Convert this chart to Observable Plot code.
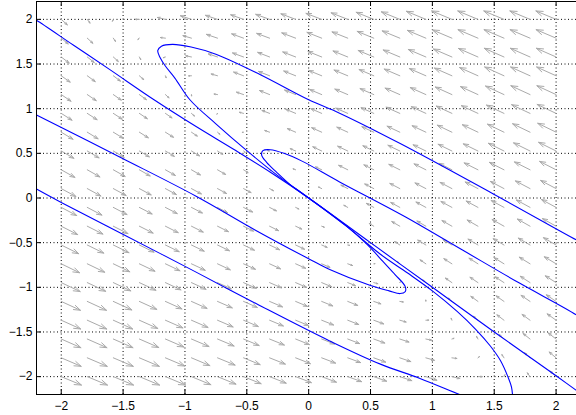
<!DOCTYPE html>
<html><head><meta charset="utf-8">
<script src="https://cdn.jsdelivr.net/npm/d3@7"></script>
<script src="https://cdn.jsdelivr.net/npm/@observablehq/plot@0.6"></script>
<style>html,body{margin:0;padding:0;background:#fff;overflow:hidden}</style>
</head><body><div id="chart"></div>
<script>
// quiver grid (20 x 20)
const gridX = [-2, -1.7895, -1.5789, -1.3684, -1.1579, -0.9474, -0.7368, -0.5263, -0.3158, -0.1053, 0.1053, 0.3158, 0.5263, 0.7368, 0.9474, 1.1579, 1.3684, 1.5789, 1.7895, 2];
const gridY = [2, 1.7895, 1.5789, 1.3684, 1.1579, 0.9474, 0.7368, 0.5263, 0.3158, 0.1053, -0.1053, -0.3158, -0.5263, -0.7368, -0.9474, -1.1579, -1.3684, -1.5789, -1.7895, -2];
// arrow components (hundredths of an axis unit), rows follow gridY
const U = [
 [4.9, 2.2, -0.7, -3.5, -6.4, -8.9, -9.7, -10.4, -11.2, -11.9, -12.7, -13.4, -14.2, -14.9, -15.7, -16.3, -16.3, -16.3, -16.3, -16.3],
 [5.6, 4.5, 1.7, -1.2, -4.0, -6.9, -8.9, -9.6, -10.4, -11.2, -11.9, -12.7, -13.4, -14.2, -14.9, -15.7, -16.1, -16.1, -16.1, -16.1],
 [6.4, 5.6, 4.0, 1.1, -1.7, -4.6, -7.4, -8.9, -9.6, -10.4, -11.1, -11.9, -12.6, -13.4, -14.2, -14.9, -15.7, -15.9, -15.9, -15.9],
 [7.2, 6.4, 5.7, 3.5, 0.6, -2.3, -5.1, -8.0, -8.9, -9.6, -10.4, -11.1, -11.9, -12.6, -13.4, -14.1, -14.9, -15.6, -15.7, -15.7],
 [7.9, 7.2, 6.4, 5.7, 2.9, 0.1, -2.8, -5.7, -8.1, -8.9, -9.6, -10.4, -11.1, -11.9, -12.6, -13.4, -14.1, -14.9, -15.5, -15.5],
 [8.7, 7.9, 7.2, 6.4, 5.3, 2.4, -0.5, -3.3, -6.2, -8.1, -8.8, -9.6, -10.3, -11.1, -11.8, -12.6, -13.4, -14.1, -14.9, -15.3],
 [9.5, 8.7, 8.0, 7.2, 6.5, 4.7, 1.9, -1.0, -3.9, -6.7, -8.1, -8.8, -9.6, -10.3, -11.1, -11.8, -12.6, -13.3, -14.1, -14.8],
 [10.2, 9.5, 8.7, 8.0, 7.2, 6.5, 4.2, 1.3, -1.5, -4.4, -7.2, -8.1, -8.8, -9.6, -10.3, -11.1, -11.8, -12.6, -13.3, -14.1],
 [11.0, 10.2, 9.5, 8.7, 8.0, 7.2, 6.5, 3.6, 0.8, -2.1, -4.9, -7.3, -8.0, -8.8, -9.5, -10.3, -11.1, -11.8, -12.6, -13.3],
 [11.8, 11.0, 10.3, 9.5, 8.8, 8.0, 7.3, 6.0, 3.1, 0.3, -2.6, -5.5, -7.3, -8.0, -8.8, -9.5, -10.3, -11.0, -11.8, -12.5],
 [12.5, 11.8, 11.0, 10.3, 9.5, 8.8, 8.0, 7.3, 5.5, 2.6, -0.3, -3.1, -6.0, -7.3, -8.0, -8.8, -9.5, -10.3, -11.0, -11.8],
 [13.3, 12.6, 11.8, 11.1, 10.3, 9.5, 8.8, 8.0, 7.3, 4.9, 2.1, -0.8, -3.6, -6.5, -7.2, -8.0, -8.7, -9.5, -10.2, -11.0],
 [14.1, 13.3, 12.6, 11.8, 11.1, 10.3, 9.6, 8.8, 8.1, 7.2, 4.4, 1.5, -1.3, -4.2, -6.5, -7.2, -8.0, -8.7, -9.5, -10.2],
 [14.8, 14.1, 13.3, 12.6, 11.8, 11.1, 10.3, 9.6, 8.8, 8.1, 6.7, 3.9, 1.0, -1.9, -4.7, -6.5, -7.2, -8.0, -8.7, -9.5],
 [15.3, 14.9, 14.1, 13.4, 12.6, 11.8, 11.1, 10.3, 9.6, 8.8, 8.1, 6.2, 3.3, 0.5, -2.4, -5.3, -6.4, -7.2, -7.9, -8.7],
 [15.5, 15.5, 14.9, 14.1, 13.4, 12.6, 11.9, 11.1, 10.4, 9.6, 8.9, 8.1, 5.7, 2.8, -0.1, -2.9, -5.7, -6.4, -7.2, -7.9],
 [15.7, 15.7, 15.6, 14.9, 14.1, 13.4, 12.6, 11.9, 11.1, 10.4, 9.6, 8.9, 8.0, 5.1, 2.3, -0.6, -3.5, -5.7, -6.4, -7.2],
 [15.9, 15.9, 15.9, 15.7, 14.9, 14.2, 13.4, 12.6, 11.9, 11.1, 10.4, 9.6, 8.9, 7.4, 4.6, 1.7, -1.1, -4.0, -5.6, -6.4],
 [16.1, 16.1, 16.1, 16.1, 15.7, 14.9, 14.2, 13.4, 12.7, 11.9, 11.2, 10.4, 9.6, 8.9, 6.9, 4.0, 1.2, -1.7, -4.5, -5.6],
 [16.3, 16.3, 16.3, 16.3, 16.3, 15.7, 14.9, 14.2, 13.4, 12.7, 11.9, 11.2, 10.4, 9.7, 8.9, 6.4, 3.5, 0.7, -2.2, -4.9]
];
const V = [
 [-6.2, -4.2, -2.1, 0.0, 2.1, 4.0, 4.5, 5.1, 5.6, 6.2, 6.7, 7.3, 7.9, 8.4, 9.0, 9.4, 9.4, 9.4, 9.4, 9.4],
 [-6.5, -5.7, -3.6, -1.4, 0.7, 2.8, 4.2, 4.8, 5.3, 5.9, 6.5, 7.0, 7.6, 8.1, 8.7, 9.2, 9.5, 9.5, 9.5, 9.5],
 [-6.8, -6.2, -5.0, -2.9, -0.8, 1.3, 3.4, 4.5, 5.1, 5.6, 6.2, 6.7, 7.3, 7.8, 8.4, 8.9, 9.5, 9.7, 9.7, 9.7],
 [-7.1, -6.5, -6.0, -4.3, -2.2, -0.1, 2.0, 4.1, 4.8, 5.3, 5.9, 6.4, 7.0, 7.5, 8.1, 8.6, 9.2, 9.8, 9.8, 9.8],
 [-7.4, -6.8, -6.2, -5.7, -3.7, -1.6, 0.6, 2.7, 4.5, 5.0, 5.6, 6.1, 6.7, 7.2, 7.8, 8.4, 8.9, 9.5, 9.9, 9.9],
 [-7.6, -7.1, -6.5, -6.0, -5.1, -3.0, -0.9, 1.2, 3.3, 4.7, 5.3, 5.8, 6.4, 6.9, 7.5, 8.1, 8.6, 9.2, 9.7, 10.0],
 [-7.9, -7.4, -6.8, -6.3, -5.7, -4.4, -2.3, -0.2, 1.9, 4.0, 5.0, 5.6, 6.1, 6.7, 7.2, 7.8, 8.3, 8.9, 9.4, 10.0],
 [-8.2, -7.7, -7.1, -6.6, -6.0, -5.5, -3.8, -1.7, 0.4, 2.6, 4.7, 5.3, 5.8, 6.4, 6.9, 7.5, 8.0, 8.6, 9.1, 9.7],
 [-8.5, -8.0, -7.4, -6.9, -6.3, -5.8, -5.2, -3.1, -1.0, 1.1, 3.2, 5.0, 5.5, 6.1, 6.6, 7.2, 7.7, 8.3, 8.8, 9.4],
 [-8.8, -8.3, -7.7, -7.1, -6.6, -6.0, -5.5, -4.5, -2.4, -0.3, 1.8, 3.9, 5.2, 5.8, 6.3, 6.9, 7.4, 8.0, 8.6, 9.1],
 [-9.1, -8.6, -8.0, -7.4, -6.9, -6.3, -5.8, -5.2, -3.9, -1.8, 0.3, 2.4, 4.5, 5.5, 6.0, 6.6, 7.1, 7.7, 8.3, 8.8],
 [-9.4, -8.8, -8.3, -7.7, -7.2, -6.6, -6.1, -5.5, -5.0, -3.2, -1.1, 1.0, 3.1, 5.2, 5.8, 6.3, 6.9, 7.4, 8.0, 8.5],
 [-9.7, -9.1, -8.6, -8.0, -7.5, -6.9, -6.4, -5.8, -5.3, -4.7, -2.6, -0.4, 1.7, 3.8, 5.5, 6.0, 6.6, 7.1, 7.7, 8.2],
 [-10.0, -9.4, -8.9, -8.3, -7.8, -7.2, -6.7, -6.1, -5.6, -5.0, -4.0, -1.9, 0.2, 2.3, 4.4, 5.7, 6.3, 6.8, 7.4, 7.9],
 [-10.0, -9.7, -9.2, -8.6, -8.1, -7.5, -6.9, -6.4, -5.8, -5.3, -4.7, -3.3, -1.2, 0.9, 3.0, 5.1, 6.0, 6.5, 7.1, 7.6],
 [-9.9, -9.9, -9.5, -8.9, -8.4, -7.8, -7.2, -6.7, -6.1, -5.6, -5.0, -4.5, -2.7, -0.6, 1.6, 3.7, 5.7, 6.2, 6.8, 7.4],
 [-9.8, -9.8, -9.8, -9.2, -8.6, -8.1, -7.5, -7.0, -6.4, -5.9, -5.3, -4.8, -4.1, -2.0, 0.1, 2.2, 4.3, 6.0, 6.5, 7.1],
 [-9.7, -9.7, -9.7, -9.5, -8.9, -8.4, -7.8, -7.3, -6.7, -6.2, -5.6, -5.1, -4.5, -3.4, -1.3, 0.8, 2.9, 5.0, 6.2, 6.8],
 [-9.5, -9.5, -9.5, -9.5, -9.2, -8.7, -8.1, -7.6, -7.0, -6.5, -5.9, -5.3, -4.8, -4.2, -2.8, -0.7, 1.4, 3.6, 5.7, 6.5],
 [-9.4, -9.4, -9.4, -9.4, -9.4, -9.0, -8.4, -7.9, -7.3, -6.7, -6.2, -5.6, -5.1, -4.5, -4.0, -2.1, 0.0, 2.1, 4.2, 6.2]
];
const ticks = [-2, -1.5, -1, -0.5, 0, 0.5, 1, 1.5, 2];
// trajectories [x, y]
const traj1 = [[-2.25,2.03],[-2.2,1.99],[-1.9,1.71],[-1.61,1.44],[-1.25,1.10],[-0.91,0.80],[-0.6,0.54],[-0.3,0.28],[0,0],[0.5,-0.5],[1.0,-1.0],[1.5,-1.5],[2.0,-1.99],[2.25,-2.24]];
const traj2 = [[2.25,-0.53],[2.165,-0.47],[1.5,0.04],[0.74,0.61],[0.25,0.95],[0,1.1],[-0.39,1.38],[-0.75,1.61],[-0.95,1.69],[-1.1,1.72],[-1.19,1.70],[-1.22,1.65],[-1.20,1.57],[-1.16,1.48],[-1.08,1.34],[-0.96,1.10],[-0.75,0.83],[-0.5,0.53],[-0.25,0.25],[0,0],[0.3,-0.31],[0.58,-0.63],[0.8,-0.84],[1.0,-1.04],[1.2,-1.27],[1.35,-1.47],[1.47,-1.66],[1.55,-1.82],[1.61,-2.0],[1.64,-2.12],[1.65,-2.25]];
const traj3 = [[2.25,-1.40],[2.165,-1.31],[1.7,-0.95],[1.24,-0.58],[0.78,-0.21],[0.25,0.18],[-0.05,0.41],[-0.2,0.50],[-0.31,0.54],[-0.37,0.53],[-0.38,0.48],[-0.34,0.40],[-0.26,0.29],[-0.15,0.15],[-0.07,0.07],[0,0]];
const traj4 = [[-2.25,0.965],[-2.2,0.93],[-1.5,0.44],[-0.91,0.02],[-0.43,-0.36],[0,-0.68],[0.17,-0.80],[0.5,-0.98],[0.65,-1.04],[0.74,-1.07],[0.78,-1.05],[0.78,-0.99],[0.70,-0.86],[0.6,-0.71],[0.48,-0.53],[0.3,-0.31],[0,0]];
const traj5 = [[-2.25,0.14],[-2.2,0.10],[-2.0,-0.05],[-1.51,-0.40],[-0.91,-0.83],[-0.4,-1.2],[0.17,-1.6],[0.58,-1.86],[0.9,-2.02],[1.22,-2.2],[1.3,-2.24]];
const trajectories = [traj1, traj2, traj3, traj4, traj5];

const arrows = [];
gridY.forEach((y, j) => gridX.forEach((x, i) => {
  arrows.push({x, y, x2: x + U[j][i] / 100, y2: y + V[j][i] / 100});
}));

const fmt = d3.format("~g");
const grid = {stroke: "#000", strokeDasharray: "1,2.5", strokeWidth: 1};
const lineMarks = trajectories.map(t => Plot.line(t, {x: d => d[0], y: d => d[1], stroke: "#0000ff", strokeWidth: 1.1, curve: "catmull-rom", clip: true}));

const chart = Plot.plot({
  width: 576, height: 415,
  marginLeft: 36, marginRight: 0, marginTop: 1, marginBottom: 21,
  x: {domain: [-2.2, 2.165], label: null},
  y: {domain: [-2.2, 2.2], label: null},
  style: {fontFamily: "'Liberation Sans', Arial, Helvetica, sans-serif", fontSize: "12px", color: "#000", background: "#fff"},
  marks: [
    Plot.ruleX(ticks, grid),
    Plot.ruleY(ticks, grid),
    Plot.arrow(arrows, {x1: "x", y1: "y", x2: "x2", y2: "y2", stroke: "#aaaaaa", strokeWidth: 1, headLength: 200, headAngle: 38}),
    ...lineMarks,
    Plot.ruleX([-2.2], {stroke: "#000"}),
    Plot.ruleY([-2.2], {stroke: "#000"}),
    Plot.ruleY([2.2], {stroke: "#000"}),
    Plot.tickX(ticks, {x: d => d, stroke: "#000", insetTop: 388}),
    Plot.tickX(ticks, {x: d => d, stroke: "#000", insetBottom: 388}),
    Plot.tickY(ticks, {y: d => d, stroke: "#000", insetRight: 535}),
    Plot.axisX({ticks, tickSize: 0, tickPadding: 7, label: null, fontSize: 12, tickFormat: fmt}),
    Plot.axisY({ticks, tickSize: 0, tickPadding: 4, label: null, fontSize: 12, tickFormat: fmt})
  ]
});
document.getElementById("chart").appendChild(chart);
</script>
</body></html>
